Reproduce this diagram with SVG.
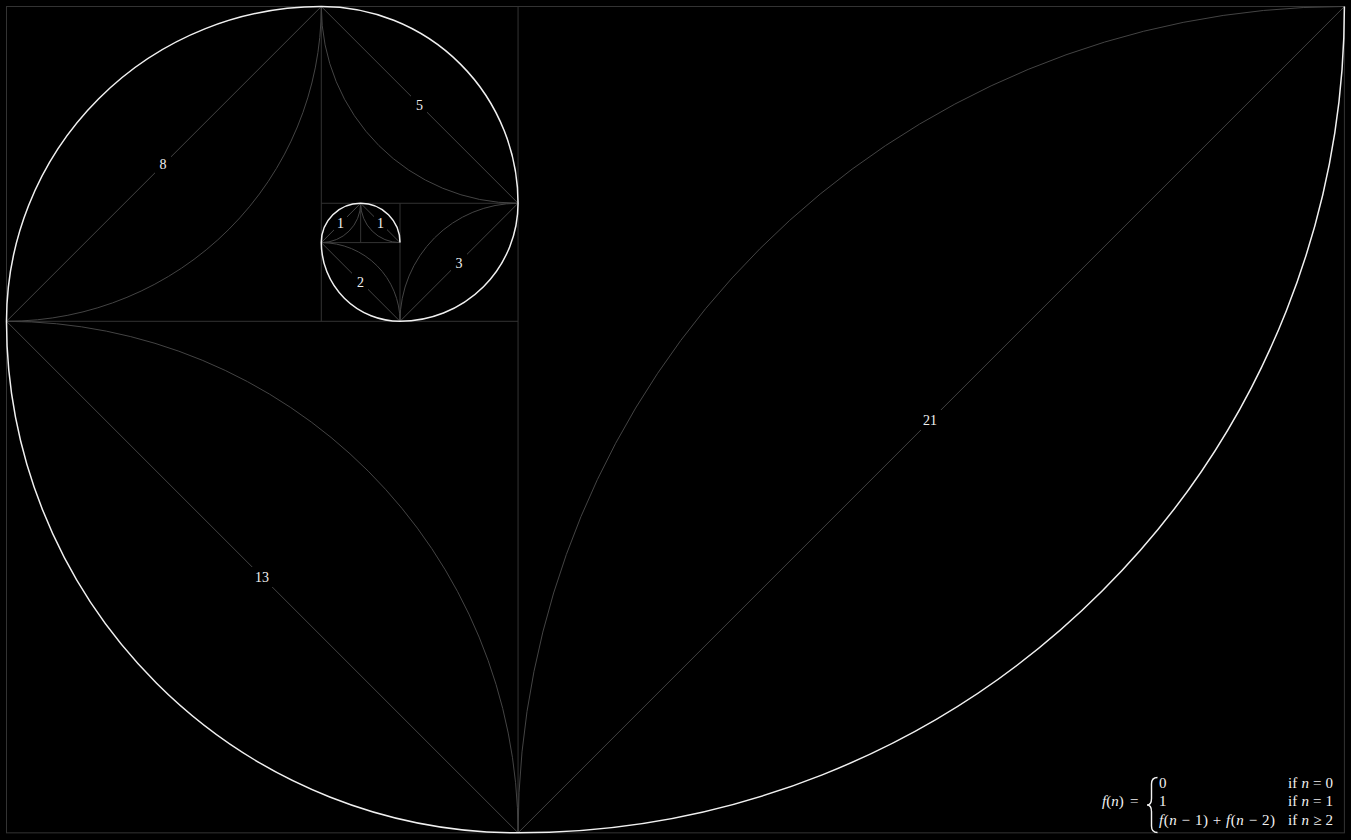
<svg xmlns="http://www.w3.org/2000/svg" width="1351" height="840" viewBox="0 0 1351 840">
<style>
.grid{fill:none;stroke:#333;stroke-width:1}
.g{fill:none;stroke:#444;stroke-width:1}
.w{fill:none;stroke:#f0f0f0;stroke-width:1.5}
.lb{fill:#000}
.t{font-family:"Liberation Serif","DejaVu Serif",serif;font-size:14px;fill:#f2f2f2;text-anchor:middle}
.f{font-family:"Liberation Serif","DejaVu Serif",serif;font-size:15px;fill:#f2f2f2}
.i{font-style:italic}
</style>
<rect width="1351" height="840" fill="#000"/>
<g id="grid">
<rect class="grid" x="6.5" y="6.5" width="1337.9" height="826.35"/>
<line class="grid" x1="518.05" y1="6.5" x2="518.05" y2="832.85"/>
<line class="grid" x1="6.5" y1="321.3" x2="518.05" y2="321.3"/>
<line class="grid" x1="321.3" y1="6.5" x2="321.3" y2="321.3"/>
<line class="grid" x1="321.3" y1="203.25" x2="518.05" y2="203.25"/>
<line class="grid" x1="400" y1="203.25" x2="400" y2="321.3"/>
<line class="grid" x1="321.3" y1="242.6" x2="400" y2="242.6"/>
<line class="grid" x1="360.65" y1="203.25" x2="360.65" y2="242.6"/>
</g>
<g id="connectors">
<path class="g" d="M518.05 832.85 A826.35 826.35 0 0 1 1344.4 6.5"/>
<line class="g" x1="518.05" y1="832.85" x2="1344.4" y2="6.5"/>
<path class="g" d="M6.5 321.3 A511.55 511.55 0 0 1 518.05 832.85"/>
<line class="g" x1="6.5" y1="321.3" x2="518.05" y2="832.85"/>
<path class="g" d="M6.5 321.3 A314.8 314.8 0 0 0 321.3 6.5"/>
<line class="g" x1="6.5" y1="321.3" x2="321.3" y2="6.5"/>
<path class="g" d="M321.3 6.5 A196.75 196.75 0 0 0 518.05 203.25"/>
<line class="g" x1="321.3" y1="6.5" x2="518.05" y2="203.25"/>
<path class="g" d="M518.05 203.25 A118.05 118.05 0 0 0 400 321.3"/>
<line class="g" x1="518.05" y1="203.25" x2="400" y2="321.3"/>
<path class="g" d="M400 321.3 A78.7 78.7 0 0 0 321.3 242.6"/>
<line class="g" x1="400" y1="321.3" x2="321.3" y2="242.6"/>
<path class="g" d="M321.3 242.6 A39.35 39.35 0 0 0 360.65 203.25"/>
<line class="g" x1="321.3" y1="242.6" x2="360.65" y2="203.25"/>
<path class="g" d="M360.65 203.25 A39.35 39.35 0 0 0 400 242.6"/>
<line class="g" x1="360.65" y1="203.25" x2="400" y2="242.6"/>
</g>
<g id="label-21"><rect class="lb" x="918" y="410" width="24" height="20"/><text class="t" x="930" y="425">21</text></g>
<g id="label-13"><rect class="lb" x="250" y="567" width="24" height="20"/><text class="t" x="262" y="582">13</text></g>
<g id="label-8"><rect class="lb" x="155" y="154" width="16" height="20"/><text class="t" x="163" y="169">8</text></g>
<g id="label-5"><rect class="lb" x="411" y="95" width="16" height="20"/><text class="t" x="419.5" y="110">5</text></g>
<g id="label-3"><rect class="lb" x="451" y="253" width="16" height="20"/><text class="t" x="459" y="268">3</text></g>
<g id="label-2"><rect class="lb" x="352" y="272" width="16" height="20"/><text class="t" x="360.5" y="287">2</text></g>
<g id="label-1a"><rect class="lb" x="334" y="215" width="13" height="16"/><text class="t" x="340.5" y="228">1</text></g>
<g id="label-1b"><rect class="lb" x="374" y="215" width="13" height="16"/><text class="t" x="380.5" y="228">1</text></g>
<g id="spiral">
<path class="w" d="M1344.4 6.5 A826.35 826.35 0 0 1 518.05 832.85 A511.55 511.55 0 0 1 6.5 321.3 A314.8 314.8 0 0 1 321.3 6.5 A196.75 196.75 0 0 1 518.05 203.25 A118.05 118.05 0 0 1 400 321.3 A78.7 78.7 0 0 1 321.3 242.6 A39.35 39.35 0 0 1 360.65 203.25 A39.35 39.35 0 0 1 400 242.6"/>
</g>
<g id="formula">
<text class="f" x="1102" y="806"><tspan class="i">f</tspan>(<tspan class="i">n</tspan>)</text>
<text class="f" x="1130" y="806">=</text>
<path d="M1157.5 777.5 Q1151.5 777.5 1151.5 784 L1151.5 798.5 Q1151.5 805 1147 805 Q1151.5 805 1151.5 811.5 L1151.5 826 Q1151.5 832.5 1157.5 832.5" fill="none" stroke="#f2f2f2" stroke-width="1.4"/>
<text class="f" x="1159" y="788">0</text>
<text class="f" x="1159" y="806">1</text>
<text class="f" x="1159" y="825" textLength="116" lengthAdjust="spacing"><tspan class="i">f</tspan>(<tspan class="i">n</tspan> − 1) + <tspan class="i">f</tspan>(<tspan class="i">n</tspan> − 2)</text>
<text class="f" x="1288" y="788" textLength="45" lengthAdjust="spacing">if <tspan class="i">n</tspan> = 0</text>
<text class="f" x="1288" y="806" textLength="45" lengthAdjust="spacing">if <tspan class="i">n</tspan> = 1</text>
<text class="f" x="1288" y="825" textLength="45" lengthAdjust="spacing">if <tspan class="i">n</tspan> ≥ 2</text>
</g>
</svg>
